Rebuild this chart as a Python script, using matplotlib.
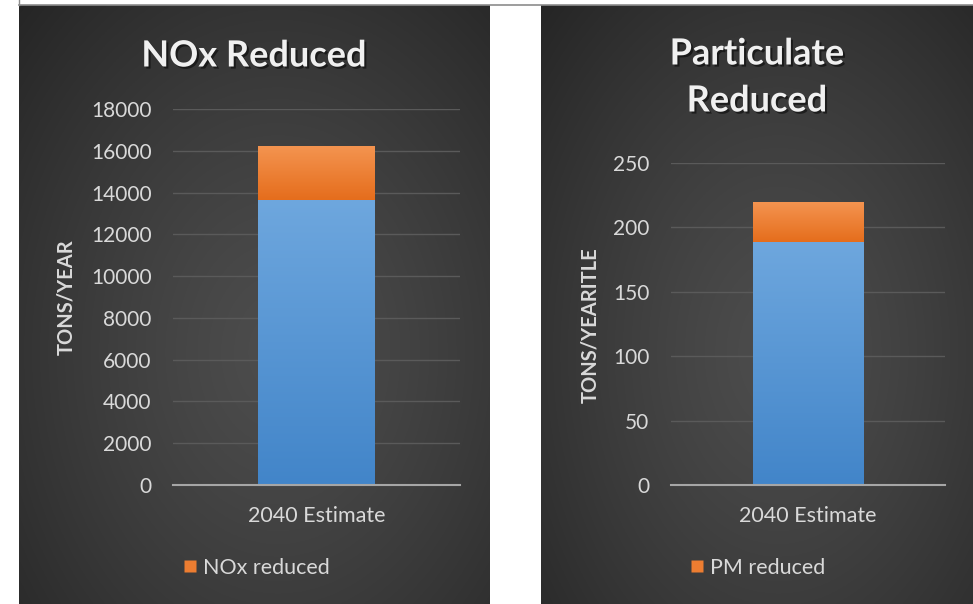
import numpy as np
import matplotlib
matplotlib.use("Agg")
import matplotlib.pyplot as plt
import matplotlib.patheffects as pe
from matplotlib.lines import Line2D

# ---- data -------------------------------------------------------------
category = ["2040 Estimate"]
nox_base = [13650]
nox_reduced = [2570]
pm_base = [189]
pm_reduced = [31]

nox_ticks = [0, 2000, 4000, 6000, 8000, 10000, 12000, 14000, 16000, 18000]
pm_ticks = [0, 50, 100, 150, 200, 250]

# ---- style ------------------------------------------------------------
FONT = "Lato"
TXT = "#d9d9d9"
GRID = "#5a5a5a"
W, H = 973, 604

fig = plt.figure(figsize=(W / 100, H / 100), dpi=100, facecolor="white")


def px_rect(x0, y0, x1, y1):
    """Axes rectangle from pixel coordinates measured from the top-left."""
    return [x0 / W, 1 - y1 / H, (x1 - x0) / W, (y1 - y0) / H]


def panel_background(x0, y0, x1, y1):
    bg = fig.add_axes(px_rect(x0, y0, x1, y1), zorder=0)
    yy, xx = np.mgrid[0:1:400j, 0:1:400j]
    r = np.sqrt(((xx - 0.55) / 0.8) ** 2 + ((yy - 0.58) / 0.85) ** 2)
    v = 0.30 - (0.30 - 0.14) * np.clip(r, 0, 1) ** 1.3
    rgb = np.dstack([v, v, v])
    bg.imshow(rgb, extent=[0, 1, 0, 1], aspect="auto", origin="upper")
    bg.set_axis_off()


def gradient_fill(ax, patch, top, bottom):
    x, y = patch.get_x(), patch.get_y()
    w, h = patch.get_width(), patch.get_height()
    t = np.linspace(0, 1, 256)[:, None, None]
    c0 = np.array(matplotlib.colors.to_rgb(top))[None, None, :]
    c1 = np.array(matplotlib.colors.to_rgb(bottom))[None, None, :]
    img = np.repeat(c0 * (1 - t) + c1 * t, 2, axis=1)
    im = ax.imshow(img, extent=[x, x + w, y, y + h], aspect="auto", origin="upper", zorder=3)
    im.set_clip_path(patch)


def stacked_chart(rect, base, extra, ymax, ticks, ylabel, legend_label, legend_x):
    ax = fig.add_axes(px_rect(*rect), zorder=1)
    ax.set_facecolor("none")
    xs = np.arange(len(category))
    b1 = ax.bar(xs, base, width=0.405, color="#5b9bd5", zorder=2)
    b2 = ax.bar(xs, extra, bottom=base, width=0.405, color="#ed7d31", zorder=2)
    for p in b1:
        gradient_fill(ax, p, "#6ea7de", "#4285c9")
    for p in b2:
        gradient_fill(ax, p, "#f49450", "#e56d1c")
    ax.set_xlim(-0.5, 0.5)
    ax.set_ylim(0, ymax)
    ax.set_yticks(ticks)
    ax.set_xticks(xs)
    ax.set_xticklabels(category)
    ax.yaxis.grid(True, color=GRID, linewidth=1.0)
    ax.set_axisbelow(True)
    for s in ["top", "right", "left"]:
        ax.spines[s].set_visible(False)
    ax.spines["bottom"].set_color("#a6a6a6")
    ax.spines["bottom"].set_linewidth(1.5)
    ax.spines["bottom"].set_zorder(4)
    ax.tick_params(axis="y", length=0, pad=15.5, labelsize=15, labelcolor=TXT)
    ax.tick_params(axis="x", length=0, pad=15, labelsize=15.5, labelcolor=TXT)
    for lab in ax.get_xticklabels() + ax.get_yticklabels():
        lab.set_fontfamily(FONT)
    ax.set_ylabel(ylabel, fontsize=14.5, fontweight="bold", color=TXT, family=FONT)
    handle = Line2D([], [], marker="s", linestyle="none", markersize=9,
                    markerfacecolor="#ed7d31", markeredgecolor="none")
    fig.legend([handle], [legend_label], loc="center left",
               bbox_to_anchor=(legend_x / W, 1 - 568 / H),
               frameon=False, handlelength=0.8, handletextpad=0.2, borderpad=0,
               borderaxespad=0, prop={"family": FONT, "size": 15.5}, labelcolor=TXT)
    return ax


# panels
panel_background(19, 5, 490, 604)
panel_background(541, 5, 973, 604)

# top frame line
fig.add_artist(Line2D([19 / W, 1], [1 - 4.5 / H, 1 - 4.5 / H], color="#8c8c8c", lw=1.2))
fig.add_artist(Line2D([19 / W, 19 / W], [1, 1 - 5 / H], color="#8c8c8c", lw=1.0))

ax1 = stacked_chart((173, 109, 460, 485), nox_base, nox_reduced, 18000, nox_ticks,
                    "TONS/YEAR", "NOx reduced", 181)
ax1.yaxis.set_label_coords((76 - 173) / 287, 0.5)

ax2 = stacked_chart((671, 163, 945, 485), pm_base, pm_reduced, 250, pm_ticks,
                    "TONS/YEARITLE", "PM reduced", 688)
ax2.yaxis.set_label_coords((600 - 671) / 274, (485 - 325) / 322)

shadow = [pe.withSimplePatchShadow(offset=(1.5, -1.5), shadow_rgbFace="black", alpha=0.5)]
title_kw = dict(ha="center", va="center", fontsize=26, fontweight="bold",
                color="#f0f0f0", family=FONT, path_effects=shadow)
fig.text(254 / W, 1 - 56 / H, "NOx Reduced", **title_kw)
fig.text(757 / W, 1 - 54 / H, "Particulate", **title_kw)
fig.text(757 / W, 1 - 101 / H, "Reduced", **title_kw)

fig.savefig("out.png", dpi=100, facecolor="white")
